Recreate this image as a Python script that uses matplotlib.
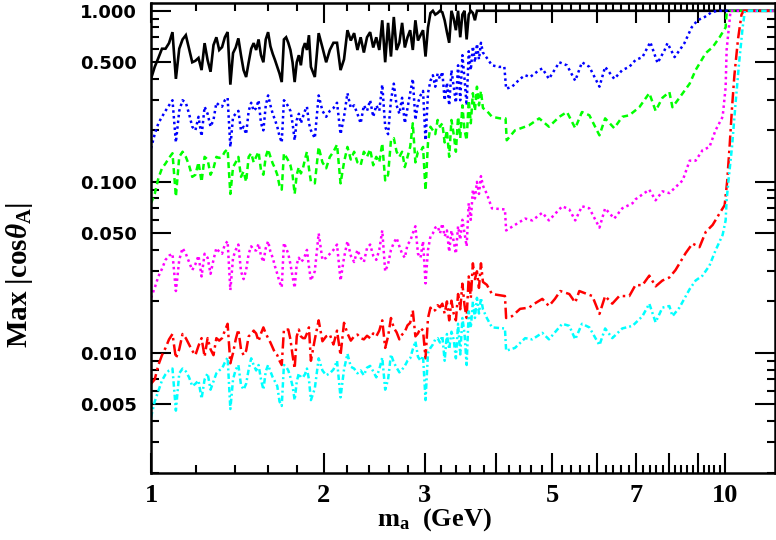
import numpy as np
import matplotlib
matplotlib.use("Agg")
import matplotlib.pyplot as plt
from matplotlib.ticker import FixedLocator, FixedFormatter, NullFormatter

# --- data ------------------------------------------------------------------
# sampling of the noisy low-mass region (GeV): finer below 1.9 GeV
x_fine = np.round(np.arange(1.000, 1.899, 0.015), 3)
x_coarse = np.round(np.arange(1.90, 3.80, 0.03), 2)

black_fine = [
    0.40, 0.47, 0.53, 0.60, 0.60, 0.647, 0.75, 0.40, 0.60, 0.68,
    0.72, 0.60, 0.50, 0.51, 0.53, 0.45, 0.647, 0.515, 0.44, 0.63,
    0.70, 0.59, 0.613, 0.70, 0.751, 0.37, 0.566, 0.61, 0.69, 0.55,
    0.45, 0.41, 0.50, 0.60, 0.647, 0.59, 0.68, 0.55, 0.50, 0.68,
    0.75, 0.62, 0.56, 0.515, 0.47, 0.43, 0.383, 0.68, 0.70, 0.65,
    0.59, 0.50, 0.383, 0.50, 0.55, 0.48, 0.60, 0.647, 0.59, 0.72,
]
black_coarse = [
    0.47, 0.41, 0.74, 0.61, 0.50, 0.59, 0.65, 0.65, 0.45, 0.52,
    0.77, 0.67, 0.74, 0.59, 0.70, 0.57, 0.70, 0.75, 0.61, 0.70,
    0.59, 0.88, 0.50, 0.85, 0.54, 0.92, 0.59, 0.65, 0.85, 0.61,
    0.70, 0.77, 0.59, 0.88, 0.67, 0.72, 0.77, 0.54, 0.80, 0.97,
    1.00, 0.95, 0.97, 1.00, 0.98, 0.88, 0.75, 0.65, 1.00, 0.90,
    0.77, 1.00, 0.70, 0.95, 1.00, 0.68, 0.95, 1.00, 0.97, 0.88,
    1.00, 1.00, 1.00, 1.00,
]
blue_fine = [
    0.157, 0.19, 0.22, 0.24, 0.26, 0.28, 0.30, 0.17, 0.26, 0.30,
    0.29, 0.25, 0.21, 0.20, 0.24, 0.185, 0.275, 0.25, 0.21, 0.23,
    0.29, 0.28, 0.275, 0.30, 0.31, 0.16, 0.24, 0.25, 0.26, 0.20,
    0.21, 0.19, 0.26, 0.29, 0.26, 0.27, 0.30, 0.22, 0.20, 0.28,
    0.32, 0.28, 0.25, 0.23, 0.21, 0.185, 0.17, 0.30, 0.29, 0.275,
    0.26, 0.22, 0.175, 0.23, 0.25, 0.22, 0.24, 0.26, 0.275, 0.22,
]
blue_coarse = [
    0.20, 0.18, 0.32, 0.26, 0.24, 0.26, 0.27, 0.29, 0.19, 0.24,
    0.33, 0.27, 0.28, 0.25, 0.22, 0.28, 0.26, 0.30, 0.24, 0.28,
    0.26, 0.37, 0.21, 0.19, 0.30, 0.375, 0.28, 0.25, 0.31, 0.22,
    0.27, 0.33, 0.40, 0.23, 0.29, 0.32, 0.34, 0.175, 0.33, 0.39,
    0.42, 0.36, 0.43, 0.40, 0.44, 0.30, 0.38, 0.28, 0.45, 0.36,
    0.29, 0.48, 0.30, 0.55, 0.40, 0.28, 0.58, 0.45, 0.62, 0.50,
    0.64, 0.52, 0.65, 0.57,
]
green_fine = [
    0.075, 0.085, 0.105, 0.12, 0.128, 0.138, 0.147, 0.082, 0.14, 0.15,
    0.14, 0.125, 0.107, 0.11, 0.13, 0.10, 0.14, 0.135, 0.11, 0.12,
    0.14, 0.138, 0.14, 0.15, 0.155, 0.085, 0.122, 0.13, 0.14, 0.107,
    0.115, 0.10, 0.14, 0.147, 0.13, 0.14, 0.15, 0.117, 0.11, 0.14,
    0.155, 0.14, 0.128, 0.12, 0.11, 0.095, 0.09, 0.147, 0.14, 0.133,
    0.125, 0.11, 0.085, 0.11, 0.122, 0.112, 0.12, 0.135, 0.15, 0.12,
]
green_coarse = [
    0.10, 0.098, 0.16, 0.13, 0.12, 0.14, 0.15, 0.165, 0.098, 0.13,
    0.16, 0.135, 0.15, 0.13, 0.125, 0.15, 0.14, 0.155, 0.125, 0.14,
    0.13, 0.168, 0.102, 0.11, 0.175, 0.18, 0.15, 0.14, 0.15, 0.122,
    0.14, 0.16, 0.22, 0.13, 0.15, 0.15, 0.16, 0.089, 0.17, 0.21,
    0.20, 0.19, 0.23, 0.21, 0.22, 0.17, 0.20, 0.14, 0.23, 0.19,
    0.15, 0.24, 0.18, 0.28, 0.20, 0.175, 0.30, 0.22, 0.33, 0.26,
    0.36, 0.28, 0.34, 0.27,
]
magenta_fine = [
    0.021, 0.024, 0.028, 0.031, 0.035, 0.037, 0.038, 0.023, 0.035, 0.041,
    0.038, 0.034, 0.0305, 0.033, 0.037, 0.028, 0.038, 0.036, 0.029, 0.035,
    0.041, 0.039, 0.038, 0.043, 0.045, 0.0233, 0.036, 0.040, 0.043, 0.030,
    0.027, 0.0305, 0.038, 0.042, 0.040, 0.0397, 0.0434, 0.037, 0.034, 0.041,
    0.045, 0.039, 0.036, 0.032, 0.029, 0.026, 0.0242, 0.044, 0.041, 0.038,
    0.033, 0.028, 0.024, 0.033, 0.036, 0.034, 0.035, 0.037, 0.040, 0.032,
]
magenta_coarse = [
    0.0265, 0.030, 0.050, 0.035, 0.036, 0.038, 0.040, 0.043, 0.0265, 0.036,
    0.045, 0.037, 0.034, 0.040, 0.036, 0.034, 0.041, 0.043, 0.037, 0.035,
    0.040, 0.052, 0.030, 0.033, 0.040, 0.044, 0.047, 0.042, 0.038, 0.036,
    0.043, 0.045, 0.050, 0.055, 0.038, 0.036, 0.045, 0.0255, 0.040, 0.048,
    0.050, 0.054, 0.055, 0.050, 0.057, 0.048, 0.052, 0.039, 0.052, 0.045,
    0.038, 0.055, 0.046, 0.060, 0.050, 0.042, 0.075, 0.060, 0.090, 0.080,
    0.100, 0.085, 0.108, 0.095,
]
red_fine = [
    0.0066, 0.0070, 0.0085, 0.0097, 0.0107, 0.0120, 0.0129, 0.0093, 0.0105, 0.0129,
    0.0122, 0.0112, 0.0103, 0.0097, 0.0110, 0.0122, 0.0095, 0.0122, 0.0105, 0.0097,
    0.0122, 0.0118, 0.0122, 0.0135, 0.0148, 0.0087, 0.0100, 0.0120, 0.0137, 0.0105,
    0.0097, 0.0103, 0.0125, 0.0129, 0.0135, 0.0130, 0.0117, 0.0130, 0.0141, 0.0130,
    0.0122, 0.0115, 0.0107, 0.0100, 0.0097, 0.0090, 0.0085, 0.0137, 0.0137, 0.0137,
    0.0120, 0.0097, 0.0081, 0.0125, 0.0137, 0.0125, 0.0122, 0.0122, 0.0130, 0.0141,
]
red_coarse = [
    0.0090, 0.0120, 0.0155, 0.0117, 0.0125, 0.0128, 0.0112, 0.0135, 0.0097, 0.0150,
    0.0130, 0.0118, 0.0125, 0.0128, 0.0122, 0.0120, 0.0126, 0.0122, 0.0130, 0.0125,
    0.0135, 0.0155, 0.0107, 0.0125, 0.0160, 0.0140, 0.0132, 0.0120, 0.0128, 0.0133,
    0.0145, 0.0150, 0.0177, 0.0125, 0.0130, 0.0140, 0.0135, 0.0093, 0.0160, 0.0184,
    0.0175, 0.0178, 0.0190, 0.0185, 0.0194, 0.0170, 0.0200, 0.0155, 0.0202, 0.0170,
    0.0155, 0.0221, 0.0180, 0.0254, 0.0190, 0.0160, 0.0280, 0.0210, 0.0334, 0.0270,
    0.0300, 0.0240, 0.0334, 0.0260,
]
cyan_fine = [
    0.0042, 0.0052, 0.0060, 0.0069, 0.0075, 0.0079, 0.0081, 0.0046, 0.0076, 0.0081,
    0.0078, 0.0072, 0.0064, 0.0066, 0.0069, 0.0054, 0.0070, 0.0076, 0.0061, 0.0068,
    0.0076, 0.0079, 0.0081, 0.0088, 0.0094, 0.0047, 0.0070, 0.0080, 0.0085, 0.0065,
    0.0061, 0.0066, 0.0080, 0.0093, 0.0085, 0.0079, 0.0085, 0.0070, 0.0061, 0.0078,
    0.0085, 0.0078, 0.0072, 0.0068, 0.0064, 0.0052, 0.0049, 0.0085, 0.0083, 0.0079,
    0.0072, 0.0064, 0.0053, 0.0068, 0.0076, 0.0072, 0.0072, 0.0075, 0.0081, 0.0070,
]
cyan_coarse = [
    0.0053, 0.0062, 0.0093, 0.0079, 0.0074, 0.0076, 0.0080, 0.0090, 0.0055, 0.0080,
    0.0099, 0.0083, 0.0081, 0.0076, 0.0079, 0.0074, 0.0082, 0.0084, 0.0078, 0.0072,
    0.0080, 0.0094, 0.0061, 0.0070, 0.0098, 0.0088, 0.0082, 0.0077, 0.0080, 0.0084,
    0.0090, 0.0093, 0.0105, 0.0117, 0.0095, 0.0090, 0.0096, 0.0053, 0.0100, 0.0107,
    0.0112, 0.0120, 0.0122, 0.0115, 0.0126, 0.0090, 0.0129, 0.0105, 0.0133, 0.0120,
    0.0093, 0.0148, 0.0098, 0.0160, 0.0130, 0.0085, 0.0175, 0.0140, 0.0200, 0.0160,
    0.0210, 0.0170, 0.0210, 0.0180,
]

# smooth part above ~3.8 GeV (drop near 4.16 GeV, rise near 10 GeV)
black_tail_x = [3.85, 12.5]
black_tail_y = [1.0, 1.0]

blue_tail_x = [3.85, 3.93, 4.04, 4.13, 4.16, 4.26, 4.40, 4.49, 4.58, 4.75, 4.81,
               4.94, 5.15, 5.31, 5.49, 5.64, 5.81, 6.05, 6.19, 6.42, 6.63, 6.82,
               6.99, 7.19, 7.42, 7.64, 7.86, 7.95, 8.18, 8.38, 8.51, 8.76, 8.97,
               9.23, 9.49, 9.72, 12.5]
blue_tail_y = [0.53, 0.48, 0.47, 0.47, 0.35, 0.36, 0.40, 0.42, 0.41, 0.45, 0.46,
               0.40, 0.50, 0.48, 0.39, 0.50, 0.47, 0.36, 0.47, 0.40, 0.45, 0.47,
               0.515, 0.536, 0.656, 0.495, 0.59, 0.647, 0.536, 0.60, 0.647, 0.80,
               0.88, 0.92, 0.98, 1.0, 1.0]

green_tail_x = [3.85, 3.93, 4.06, 4.15, 4.17, 4.31, 4.56, 4.75, 4.94, 5.15, 5.31,
                5.49, 5.64, 5.81, 6.05, 6.19, 6.42, 6.63, 6.82, 7.10, 7.39, 7.58,
                7.79, 8.01, 8.11, 8.34, 8.69, 8.90, 9.27, 9.53, 9.80, 10.04, 10.08,
                10.20, 12.5]
green_tail_y = [0.26, 0.24, 0.235, 0.235, 0.175, 0.20, 0.214, 0.235, 0.21, 0.24,
                0.256, 0.206, 0.256, 0.245, 0.187, 0.235, 0.206, 0.24, 0.245, 0.273,
                0.33, 0.26, 0.31, 0.335, 0.273, 0.31, 0.375, 0.45, 0.566, 0.613,
                0.70, 0.80, 0.97, 1.0, 1.0]

magenta_tail_x = [3.85, 3.93, 4.14, 4.16, 4.31, 4.49, 4.62, 4.81, 4.94, 5.21, 5.36,
                  5.49, 5.64, 5.81, 6.05, 6.19, 6.42, 6.63, 6.91, 6.99, 7.39, 7.58,
                  7.79, 8.01, 8.21, 8.45, 8.69, 8.90, 9.15, 9.41, 9.64, 9.92, 10.04,
                  10.08, 10.20, 10.24, 12.5]
magenta_tail_y = [0.085, 0.070, 0.069, 0.052, 0.056, 0.061, 0.0595, 0.066, 0.0595,
                  0.072, 0.069, 0.0595, 0.072, 0.070, 0.054, 0.070, 0.061, 0.070,
                  0.075, 0.079, 0.090, 0.078, 0.088, 0.086, 0.093, 0.102, 0.133,
                  0.133, 0.153, 0.16, 0.20, 0.24, 0.357, 0.59, 0.88, 1.0, 1.0]

red_tail_x = [3.85, 3.93, 4.14, 4.16, 4.26, 4.40, 4.56, 4.66, 4.81, 4.94, 5.06,
              5.17, 5.36, 5.49, 5.58, 5.88, 6.05, 6.19, 6.37, 6.55, 6.82, 6.99,
              7.19, 7.39, 7.58, 7.79, 8.01, 8.21, 8.55, 8.79, 9.04, 9.27, 9.53,
              9.80, 10.0, 10.1, 10.2, 10.3, 10.4, 10.55, 10.7, 10.8, 12.5]
red_tail_y = [0.025, 0.0221, 0.0215, 0.016, 0.0164, 0.0181, 0.0184, 0.0194, 0.0207,
              0.0188, 0.0207, 0.023, 0.0221, 0.0197, 0.023, 0.0215, 0.0169, 0.0215,
              0.0194, 0.0215, 0.0215, 0.0249, 0.0249, 0.0283, 0.0245, 0.0265, 0.0276,
              0.0305, 0.0383, 0.0436, 0.0415, 0.051, 0.056, 0.0655, 0.073, 0.10,
              0.16, 0.27, 0.42, 0.68, 0.95, 1.0, 1.0]

cyan_tail_x = [3.85, 3.93, 4.14, 4.16, 4.31, 4.49, 4.62, 4.81, 4.94, 5.21, 5.36,
               5.49, 5.64, 5.81, 6.05, 6.19, 6.37, 6.63, 6.91, 7.19, 7.39, 7.58,
               7.79, 8.01, 8.11, 8.34, 8.69, 8.90, 9.15, 9.41, 9.64, 9.92, 10.04,
               10.08, 10.15, 10.3, 10.45, 10.6, 10.75, 10.85, 12.5]
cyan_tail_y = [0.016, 0.0141, 0.0139, 0.0103, 0.0107, 0.0122, 0.012, 0.0131, 0.012,
               0.0148, 0.0144, 0.012, 0.0148, 0.0141, 0.0111, 0.0139, 0.0122, 0.0139,
               0.0144, 0.0164, 0.0194, 0.0151, 0.0184, 0.0188, 0.0164, 0.0184,
               0.0236, 0.0265, 0.0283, 0.0324, 0.0397, 0.049, 0.0595, 0.078, 0.10,
               0.16, 0.29, 0.5, 0.8, 1.0, 1.0]

x_major = [1, 2, 3, 4, 5, 6, 7, 8, 9, 10]
x_labels = ["1", "2", "3", "", "5", "", "7", "", "", "10"]
y_major = [0.005, 0.01, 0.05, 0.1, 0.5, 1.0]
y_labels = ["0.005", "0.010", "0.050", "0.100", "0.500", "1.000"]

# --- figure ---------------------------------------------------------------
plt.rcParams["mathtext.fontset"] = "custom"
plt.rcParams["mathtext.rm"] = "Liberation Serif:bold"
plt.rcParams["mathtext.it"] = "Liberation Serif:italic:bold"
plt.rcParams["mathtext.bf"] = "Liberation Serif:bold"

fig = plt.figure(figsize=(7.76, 5.40), dpi=100)
ax = fig.add_axes([0.1946, 0.125, 0.8041, 0.8694])

curves = [
    (black_fine, black_coarse, black_tail_x, black_tail_y, "black", "-"),
    (blue_fine, blue_coarse, blue_tail_x, blue_tail_y, "#0000ff", (0, (1.0, 1.3))),
    (green_fine, green_coarse, green_tail_x, green_tail_y, "#00ff00", (0, (2.4, 1.6))),
    (magenta_fine, magenta_coarse, magenta_tail_x, magenta_tail_y, "#ff00ff",
     (0, (1.0, 1.3))),
    (red_fine, red_coarse, red_tail_x, red_tail_y, "#ff0000", (0, (4.5, 1.6, 1.0, 1.6))),
    (cyan_fine, cyan_coarse, cyan_tail_x, cyan_tail_y, "#00ffff",
     (0, (2.2, 1.2, 0.8, 1.2))),
]
for fine, coarse, tx, ty, color, ls in curves:
    xs = np.concatenate([x_fine, x_coarse, tx])
    ys = np.concatenate([fine, coarse, ty])
    ax.plot(xs, ys, color=color, linestyle=ls, lw=1.9 if ls == "-" else 1.8,
            solid_joinstyle="miter", dash_capstyle="butt")

ax.set_xscale("log")
ax.set_yscale("log")
ax.set_xlim(1.0, 12.24)
ax.set_ylim(0.002, 1.11)

ax.xaxis.set_major_locator(FixedLocator(x_major))
ax.xaxis.set_major_formatter(FixedFormatter(x_labels))
x_minor = [v for v in np.round(np.arange(1.2, 10.0, 0.2), 1) if v % 1 != 0]
ax.xaxis.set_minor_locator(FixedLocator(x_minor))
ax.xaxis.set_minor_formatter(NullFormatter())

ax.yaxis.set_major_locator(FixedLocator(y_major))
ax.yaxis.set_major_formatter(FixedFormatter(y_labels))
y_minor = [0.002, 0.003, 0.004, 0.006, 0.007, 0.008, 0.009,
           0.02, 0.03, 0.04, 0.06, 0.07, 0.08, 0.09,
           0.2, 0.3, 0.4, 0.6, 0.7, 0.8, 0.9]
ax.yaxis.set_minor_locator(FixedLocator(y_minor))
ax.yaxis.set_minor_formatter(NullFormatter())

ax.tick_params(which="both", direction="in", top=True, right=True, width=1.5)
ax.tick_params(which="major", length=14.5)
ax.tick_params(which="minor", length=5.5)
ax.tick_params(axis="y", which="major", pad=10, labelsize=13)
ax.tick_params(axis="x", which="major", pad=8, labelsize=19)
for lab in ax.get_xticklabels():
    lab.set_family("Liberation Serif")
    lab.set_fontweight("bold")
for lab in ax.get_yticklabels():
    lab.set_family("DejaVu Sans")
    lab.set_fontweight("bold")

for sp in ax.spines.values():
    sp.set_linewidth(1.8)

ax.set_xlabel(r"m$_\mathrm{a}$  (GeV)", family="Liberation Serif",
              fontweight="bold", fontsize=19)
ax.set_ylabel(r"Max $|\mathrm{cos}\theta_\mathrm{A}|$", family="Liberation Serif",
              fontweight="bold", fontsize=21)
ax.xaxis.set_label_coords(0.455, -0.072)
ax.yaxis.set_label_coords(-0.186, 0.42)

fig.savefig("out.png", dpi=100)
